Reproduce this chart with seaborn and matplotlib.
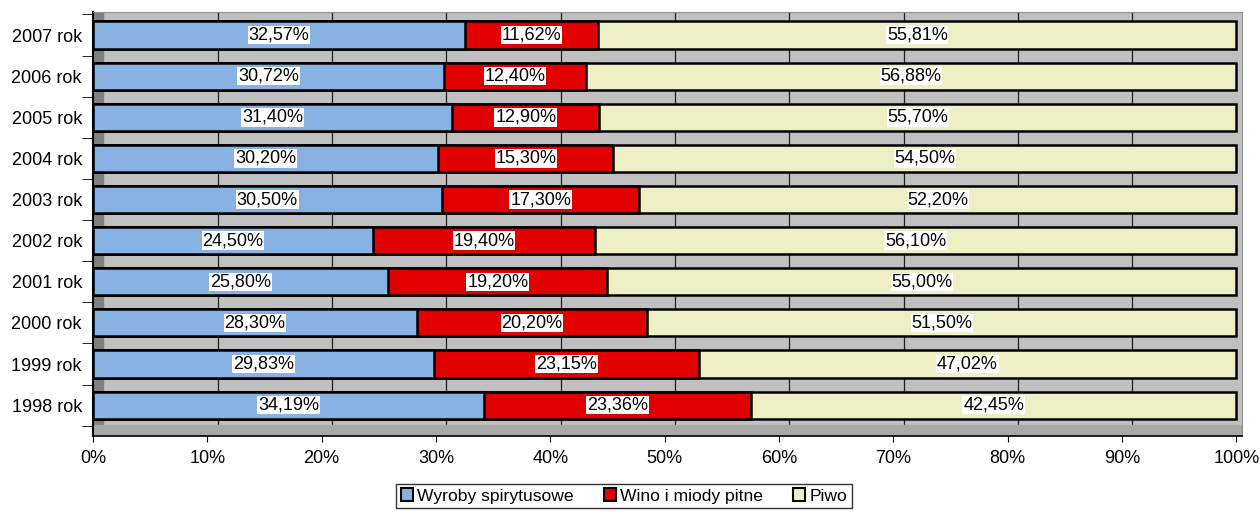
import matplotlib
matplotlib.use('Agg')
import matplotlib.pyplot as plt
import seaborn as sns
import pandas as pd
import numpy as np
from matplotlib.patches import Rectangle, Patch

years = ['2007 rok', '2006 rok', '2005 rok', '2004 rok', '2003 rok',
         '2002 rok', '2001 rok', '2000 rok', '1999 rok', '1998 rok']
spirits = [32.57, 30.72, 31.40, 30.20, 30.50, 24.50, 25.80, 28.30, 29.83, 34.19]
wine = [11.62, 12.40, 12.90, 15.30, 17.30, 19.40, 19.20, 20.20, 23.15, 23.36]
beer = [55.81, 56.88, 55.70, 54.50, 52.20, 56.10, 55.00, 51.50, 47.02, 42.45]
series = ['Wyroby spirytusowe', 'Wino i miody pitne', 'Piwo']
colors = ['#88B2E4', '#E00000', '#EFEFC6']

df = pd.DataFrame({'year': years, 'spirits': spirits, 'wine': wine, 'beer': beer})
df['c1'] = df['spirits']
df['c2'] = df['spirits'] + df['wine']
df['c3'] = df['c2'] + df['beer']

sns.set_style('white')
plt.rcParams['font.family'] = ['Liberation Sans', 'DejaVu Sans']
plt.rcParams['text.color'] = 'black'
plt.rcParams['xtick.color'] = 'black'
plt.rcParams['ytick.color'] = 'black'

fig = plt.figure(figsize=(12.6, 5.14), dpi=100)
ax = fig.add_axes([93 / 1260, 1 - 436 / 514, 1149 / 1260, 424 / 514])
ax.set_facecolor('#C0C0C0')

# back wall gridlines (shifted a bit for the 3D look)
for v in range(10, 101, 10):
    ax.axvline(v + 0.9, color='#202020', lw=0.9, zorder=0)

# left wall and floor
ax.add_patch(Rectangle((0, 0), 0.009, 1, transform=ax.transAxes,
                       color='#808080', zorder=0.5))
ax.add_patch(Rectangle((0, 0), 1, 0.025, transform=ax.transAxes,
                       color='#A8A8A8', zorder=0.5))

for col, c in zip(['c3', 'c2', 'c1'], colors[::-1]):
    sns.barplot(data=df, x=col, y='year', order=years, color=c, width=0.66,
                edgecolor='black', linewidth=1.8, saturation=1, ax=ax, zorder=2)

for i, y in enumerate(years):
    starts = [0, df['c1'][i], df['c2'][i]]
    vals = [spirits[i], wine[i], beer[i]]
    for s, v in zip(starts, vals):
        ax.text(s + v / 2, i, f'{v:.2f}%'.replace('.', ','), ha='center', va='center',
                fontsize=13, color='black', zorder=5,
                bbox=dict(boxstyle='square,pad=0.04', fc='white', ec='none'))

ax.set_xlim(0, 100.5)
ax.set_ylim(9.75, -0.56)
ax.set_xticks(range(0, 101, 10))
ax.set_xticklabels([f'{v}%' for v in range(0, 101, 10)], fontsize=13)
ax.set_yticks(range(10))
ax.set_yticklabels(years, fontsize=13)
ax.set_xlabel('')
ax.set_ylabel('')
ax.tick_params(axis='y', length=0, pad=8)
ax.tick_params(axis='x', length=4, color='black', pad=6)
ax.set_yticks(np.arange(-0.5, 10, 1), minor=True)
ax.tick_params(axis='y', which='minor', length=8, color='black', left=True)
ax.tick_params(axis='x', bottom=True)

for side in ['top', 'right']:
    ax.spines[side].set_color('#909090')
ax.spines['left'].set_color('black')
ax.spines['left'].set_linewidth(1.5)
ax.spines['bottom'].set_color('black')
ax.spines['bottom'].set_linewidth(1.2)

handles = [Patch(facecolor=c, edgecolor='black', linewidth=1.5) for c in colors]
fig.legend(handles, series, loc='center', bbox_to_anchor=(624 / 1260, 1 - 496 / 514),
           ncol=3, fontsize=12.6, frameon=True, fancybox=False, edgecolor='black',
           handlelength=0.7, handleheight=0.7, handletextpad=0.25, columnspacing=1.7,
           borderpad=0.25, borderaxespad=0)

fig.savefig('out.png', dpi=100)
